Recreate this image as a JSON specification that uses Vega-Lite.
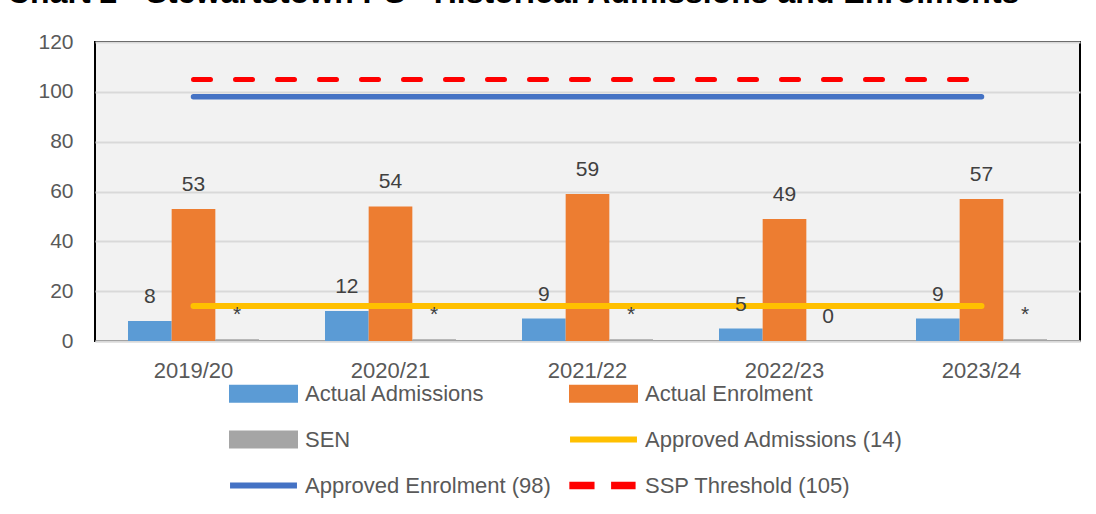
{
  "$schema": "https://vega.github.io/schema/vega-lite/v6.json",
  "autosize": {"type": "none"},
  "width": 985,
  "height": 299,
  "padding": {"left": 95, "top": 42, "right": 16, "bottom": 173},
  "background": "white",
  "title": {
    "text": "Chart 2 - Stewartstown PS - Historical Admissions and Enrolments",
    "anchor": "start",
    "frame": "group",
    "dx": -88,
    "dy": 24,
    "offset": 20,
    "baseline": "alphabetic",
    "font": "Liberation Sans",
    "fontSize": 32,
    "fontWeight": "bold",
    "color": "#000000"
  },
  "data": {
    "values": [
      {"kind": "bar", "year": "2019/20", "series": "Actual Admissions", "value": 8, "label": "8"},
      {"kind": "bar", "year": "2019/20", "series": "Actual Enrolment", "value": 53, "label": "53"},
      {"kind": "bar", "year": "2019/20", "series": "SEN", "value": 0.7, "label": "*"},
      {"kind": "bar", "year": "2020/21", "series": "Actual Admissions", "value": 12, "label": "12"},
      {"kind": "bar", "year": "2020/21", "series": "Actual Enrolment", "value": 54, "label": "54"},
      {"kind": "bar", "year": "2020/21", "series": "SEN", "value": 0.7, "label": "*"},
      {"kind": "bar", "year": "2021/22", "series": "Actual Admissions", "value": 9, "label": "9"},
      {"kind": "bar", "year": "2021/22", "series": "Actual Enrolment", "value": 59, "label": "59"},
      {"kind": "bar", "year": "2021/22", "series": "SEN", "value": 0.7, "label": "*"},
      {"kind": "bar", "year": "2022/23", "series": "Actual Admissions", "value": 5, "label": "5"},
      {"kind": "bar", "year": "2022/23", "series": "Actual Enrolment", "value": 49, "label": "49"},
      {"kind": "bar", "year": "2022/23", "series": "SEN", "value": 0, "label": "0"},
      {"kind": "bar", "year": "2023/24", "series": "Actual Admissions", "value": 9, "label": "9"},
      {"kind": "bar", "year": "2023/24", "series": "Actual Enrolment", "value": 57, "label": "57"},
      {"kind": "bar", "year": "2023/24", "series": "SEN", "value": 0.7, "label": "*"},
      {"kind": "line", "year": "2019/20", "series": "Approved Admissions (14)", "value": 14},
      {"kind": "line", "year": "2020/21", "series": "Approved Admissions (14)", "value": 14},
      {"kind": "line", "year": "2021/22", "series": "Approved Admissions (14)", "value": 14},
      {"kind": "line", "year": "2022/23", "series": "Approved Admissions (14)", "value": 14},
      {"kind": "line", "year": "2023/24", "series": "Approved Admissions (14)", "value": 14},
      {"kind": "line", "year": "2019/20", "series": "Approved Enrolment (98)", "value": 98},
      {"kind": "line", "year": "2020/21", "series": "Approved Enrolment (98)", "value": 98},
      {"kind": "line", "year": "2021/22", "series": "Approved Enrolment (98)", "value": 98},
      {"kind": "line", "year": "2022/23", "series": "Approved Enrolment (98)", "value": 98},
      {"kind": "line", "year": "2023/24", "series": "Approved Enrolment (98)", "value": 98},
      {"kind": "line", "year": "2019/20", "series": "SSP Threshold (105)", "value": 105},
      {"kind": "line", "year": "2020/21", "series": "SSP Threshold (105)", "value": 105},
      {"kind": "line", "year": "2021/22", "series": "SSP Threshold (105)", "value": 105},
      {"kind": "line", "year": "2022/23", "series": "SSP Threshold (105)", "value": 105},
      {"kind": "line", "year": "2023/24", "series": "SSP Threshold (105)", "value": 105}
    ]
  },
  "encoding": {
    "x": {
      "field": "year",
      "type": "nominal",
      "sort": null,
      "scale": {"paddingInner": 0.335, "paddingOuter": 0.1675},
      "axis": {
        "title": null,
        "labelAngle": 0,
        "labelFont": "Liberation Sans",
        "labelFontSize": 22,
        "labelColor": "#595959",
        "ticks": false,
        "tickSize": 0,
        "labelPadding": 19,
        "domainColor": "#d9d9d9",
        "domainWidth": 2,
        "grid": false
      }
    },
    "y": {
      "field": "value",
      "type": "quantitative",
      "scale": {"domain": [0, 120], "nice": false},
      "axis": {
        "title": null,
        "values": [0, 20, 40, 60, 80, 100, 120],
        "domain": false,
        "ticks": false,
        "tickSize": 0,
        "labelPadding": 22,
        "labelFont": "Liberation Sans",
        "labelFontSize": 21,
        "labelColor": "#595959",
        "grid": true,
        "gridColor": "#d9d9d9",
        "gridWidth": 2
      }
    }
  },
  "layer": [
    {
      "transform": [{"filter": "datum.kind === 'bar'"}],
      "mark": {"type": "bar"},
      "encoding": {
        "xOffset": {
          "field": "series",
          "type": "nominal",
          "scale": {"domain": ["Actual Admissions", "Actual Enrolment", "SEN"], "paddingInner": 0, "paddingOuter": 0}
        },
        "color": {
          "field": "series",
          "type": "nominal",
          "scale": {
            "domain": ["Actual Admissions", "Actual Enrolment", "SEN", "Approved Admissions (14)", "Approved Enrolment (98)", "SSP Threshold (105)"],
            "range": ["#5B9BD5", "#ED7D31", "#A5A5A5", "#FFC000", "#4472C4", "#FF0000"]
          },
          "legend": {
            "orient": "none",
            "legendX": 134,
            "legendY": 317,
            "direction": "horizontal",
            "columns": 2,
            "title": null,
            "padding": 0,
            "symbolType": "M-1,-0.26H1V0.26H-1Z",
            "symbolSize": 4761,
            "symbolStrokeWidth": 0,
            "labelFont": "Liberation Sans",
            "labelFontSize": 22,
            "labelColor": "#595959",
            "labelOffset": 7,
            "labelLimit": 400,
            "columnPadding": 18,
            "rowPadding": -1,
            "encode": {
              "symbols": {
                "update": {
                  "shape": {"signal": "datum.value === 'SSP Threshold (105)' ? 'M-0.99,-0.11H-0.26V0.11H-0.99Z M0.22,-0.11H0.93V0.11H0.22Z' : ((datum.value === 'Approved Admissions (14)' || datum.value === 'Approved Enrolment (98)') ? 'M-0.97,-0.085H0.97V0.085H-0.97Z' : 'M-1,-0.26H1V0.26H-1Z')"},
                  "fill": {"signal": "scale('color', datum.value)"},
                  "stroke": {"value": "transparent"},
                  "opacity": {"value": 1},
                  "fillOpacity": {"value": 1}
                }
              }
            }
          }
        }
      }
    },
    {
      "transform": [{"filter": "datum.kind === 'line'"}],
      "mark": {"type": "line", "strokeCap": "round"},
      "encoding": {
        "color": {"field": "series", "type": "nominal"},
        "strokeDash": {
          "field": "series",
          "type": "nominal",
          "scale": {"domain": ["Approved Admissions (14)", "Approved Enrolment (98)", "SSP Threshold (105)"], "range": [[1, 0], [1, 0], [17, 25]]},
          "legend": null
        },
        "strokeWidth": {
          "field": "series",
          "type": "nominal",
          "scale": {"domain": ["Approved Admissions (14)", "Approved Enrolment (98)", "SSP Threshold (105)"], "range": [6, 5, 7.5]},
          "legend": null
        }
      }
    },
    {
      "transform": [{"filter": "datum.kind === 'bar'"}],
      "mark": {"type": "text", "dy": -24, "baseline": "middle", "align": "center", "font": "Liberation Sans", "fontSize": 21, "color": "#404040"},
      "encoding": {
        "xOffset": {"field": "series", "type": "nominal"},
        "text": {"field": "label"}
      }
    }
  ],
  "config": {
    "view": {"fill": "#f2f2f2", "stroke": "#000000", "strokeWidth": 2}
  }
}
